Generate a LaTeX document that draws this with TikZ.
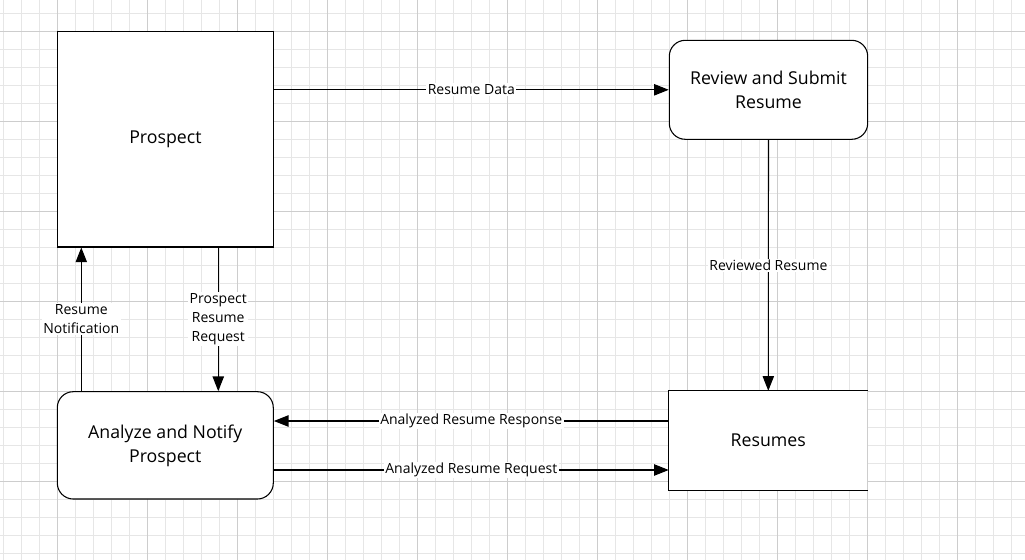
\documentclass[tikz,border=0pt]{standalone}
\usepackage{fontspec}
\setmainfont{Open Sans}
\usepackage{tikz}
\usetikzlibrary{arrows.meta}
\usetikzlibrary{calc}
\definecolor{gridminor}{RGB}{230,230,230}
\definecolor{gridmajor}{RGB}{205,205,205}

\begin{document}
\begin{tikzpicture}[x=0.75pt,y=-0.75pt,->,>={Triangle[length=11pt,width=8.5pt]},line width=0.8pt]
		\tikzstyle{procbox}=[rectangle,draw,rounded corners=12pt,align=center,
			font=\fontsize{13.3}{18}\selectfont,minimum width=148.8pt,minimum height=74.25pt];
		\tikzstyle{entity}=[rectangle,draw,align=center,
			font=\fontsize{13.3}{18}\selectfont];
		\tikzstyle{store}=[rectangle,align=center,
			font=\fontsize{13.3}{18}\selectfont,minimum width=148.5pt,minimum height=74pt];
		\tikzstyle{flowlabel}=[fill=white,inner sep=1pt,align=center,
			font=\fontsize{10.5}{14.2}\selectfont];
		\useasboundingbox(0,0)rectangle(1025,560);
		% grid paper
		\foreach \gx in {0,...,56}
			\draw[-,gridminor,line width=0.75pt](3.3+18*\gx,0)--(3.3+18*\gx,560);
		\foreach \gy in {0,...,30}
			\draw[-,gridminor,line width=0.75pt](0,13.3+18*\gy)--(1025,13.3+18*\gy);
		\foreach \gx in {0,...,10}
			\draw[-,gridmajor,line width=0.75pt](57.3+90*\gx,0)--(57.3+90*\gx,560);
		\foreach \gy in {0,...,5}
			\draw[-,gridmajor,line width=0.75pt](0,31.3+90*\gy)--(1025,31.3+90*\gy);

		\node[entity,fill=white,minimum width=161.9pt,minimum height=161.6pt](p) at (165.4,139.25){Prospect};
		\node[procbox,fill=white](r) at (768.5,89.8){Review and Submit\\Resume};
		\node[procbox,fill=white,minimum width=162pt,minimum height=80.5pt](a) at (165.3,445.35){Analyze and Notify\\Prospect};
		\node[store,fill=white](s) at (768.3,440.65){Resumes};
		\draw[-](s.north east)--(s.north west)--(s.south west)--(s.south east);

		\draw(p.east|-r.west)--node[flowlabel]{Resume Data}(r.west);
		\draw(r.south)--node[flowlabel]{Reviewed Resume}(s.north);
		\draw(s.west|-0,421)--node[flowlabel]{Analyzed Resume Response}(a.east|-0,421);
		\draw(a.east|-0,470)--node[flowlabel]{Analyzed Resume Request}(s.west|-0,470);
		\draw([xshift=18.4pt]a.north west)--node[flowlabel]{Resume\\Notification}([xshift=18.4pt]a.north west|-p.south);
		\draw([xshift=-41.7pt]p.south east)--node[flowlabel]{Prospect\\Resume\\Request}([xshift=-41.7pt]p.south east|-a.north);
	\end{tikzpicture}
\end{document}
